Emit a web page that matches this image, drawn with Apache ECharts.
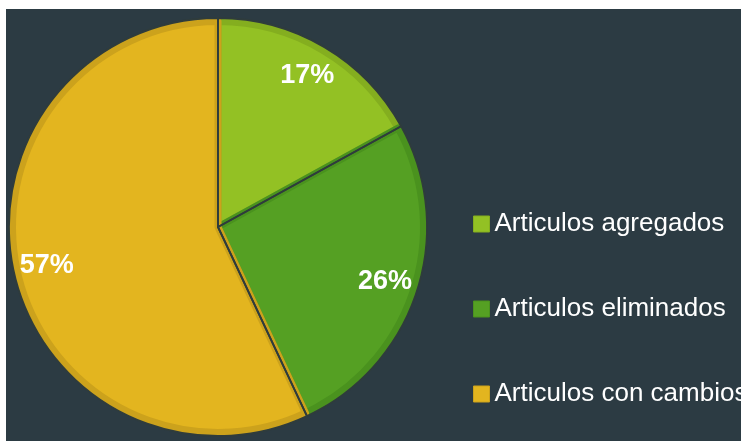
<!DOCTYPE html>
<html>
<head>
<meta charset="utf-8">
<script src="https://cdn.jsdelivr.net/npm/echarts@6/dist/echarts.min.js"></script>
<style>
html,body{margin:0;padding:0;background:#ffffff;width:741px;height:441px;overflow:hidden;}
#chart{position:absolute;left:6px;top:9px;width:735px;height:432px;background:#2c3b43;}
</style>
</head>
<body>
<div id="chart"></div>
<script>
const categories = ['Articulos agregados', 'Articulos eliminados', 'Articulos con cambios'];
const values = [17, 26, 57];
const fillColors = ['#93c124', '#55a023', '#e3b51f'];
const rimColors = ['#84ae1f', '#4a921e', '#cca21c'];

const FONT = "'Liberation Sans', Arial, sans-serif";
const BG = '#2c3b43';
const center = [212, 218];
const R = 209;

const chart = echarts.init(document.getElementById('chart'));

const mainData = categories.map((c, i) => ({
  name: c, value: values[i],
  itemStyle: { color: fillColors[i], borderColor: rimColors[i], borderWidth: 7 }
}));
const sepData = categories.map((c, i) => ({ name: c, value: values[i] }));
const labelData = categories.map((c, i) => ({ name: c, value: values[i] }));

chart.setOption({
  backgroundColor: BG,
  animation: false,
  legend: {
    data: categories.map((c, i) => ({ name: c, itemStyle: { color: fillColors[i], borderColor: rimColors[i], borderWidth: 1 } })),
    orient: 'vertical',
    left: 462,
    top: 197,
    itemWidth: 16,
    itemHeight: 16,
    itemGap: 59,
    icon: 'rect',
    textStyle: { color: '#ffffff', fontSize: 26, fontFamily: FONT, lineHeight: 26, padding: [0, 0, 0, 0] }
  },
  series: [
    {
      type: 'pie', silent: true, center: center, radius: [0, R - 3.5],
      startAngle: 90, clockwise: true,
      label: { show: false }, labelLine: { show: false },
      data: mainData
    },
    {
      type: 'pie', silent: true, center: center, radius: [0, R],
      startAngle: 90, clockwise: true,
      itemStyle: { color: 'rgba(0,0,0,0)', borderColor: '#2f3c3c', borderWidth: 1.8 },
      label: { show: false }, labelLine: { show: false },
      data: sepData
    },
    {
      type: 'pie', silent: true, center: center, radius: [136, R],
      startAngle: 90, clockwise: true,
      itemStyle: { color: 'rgba(0,0,0,0)', borderWidth: 0 },
      label: {
        show: true, position: 'inside', formatter: '{c}%',
        color: '#ffffff', fontSize: 27, fontWeight: 'bold', fontFamily: FONT
      },
      labelLine: { show: false },
      data: labelData
    }
  ]
});
</script>
</body>
</html>
